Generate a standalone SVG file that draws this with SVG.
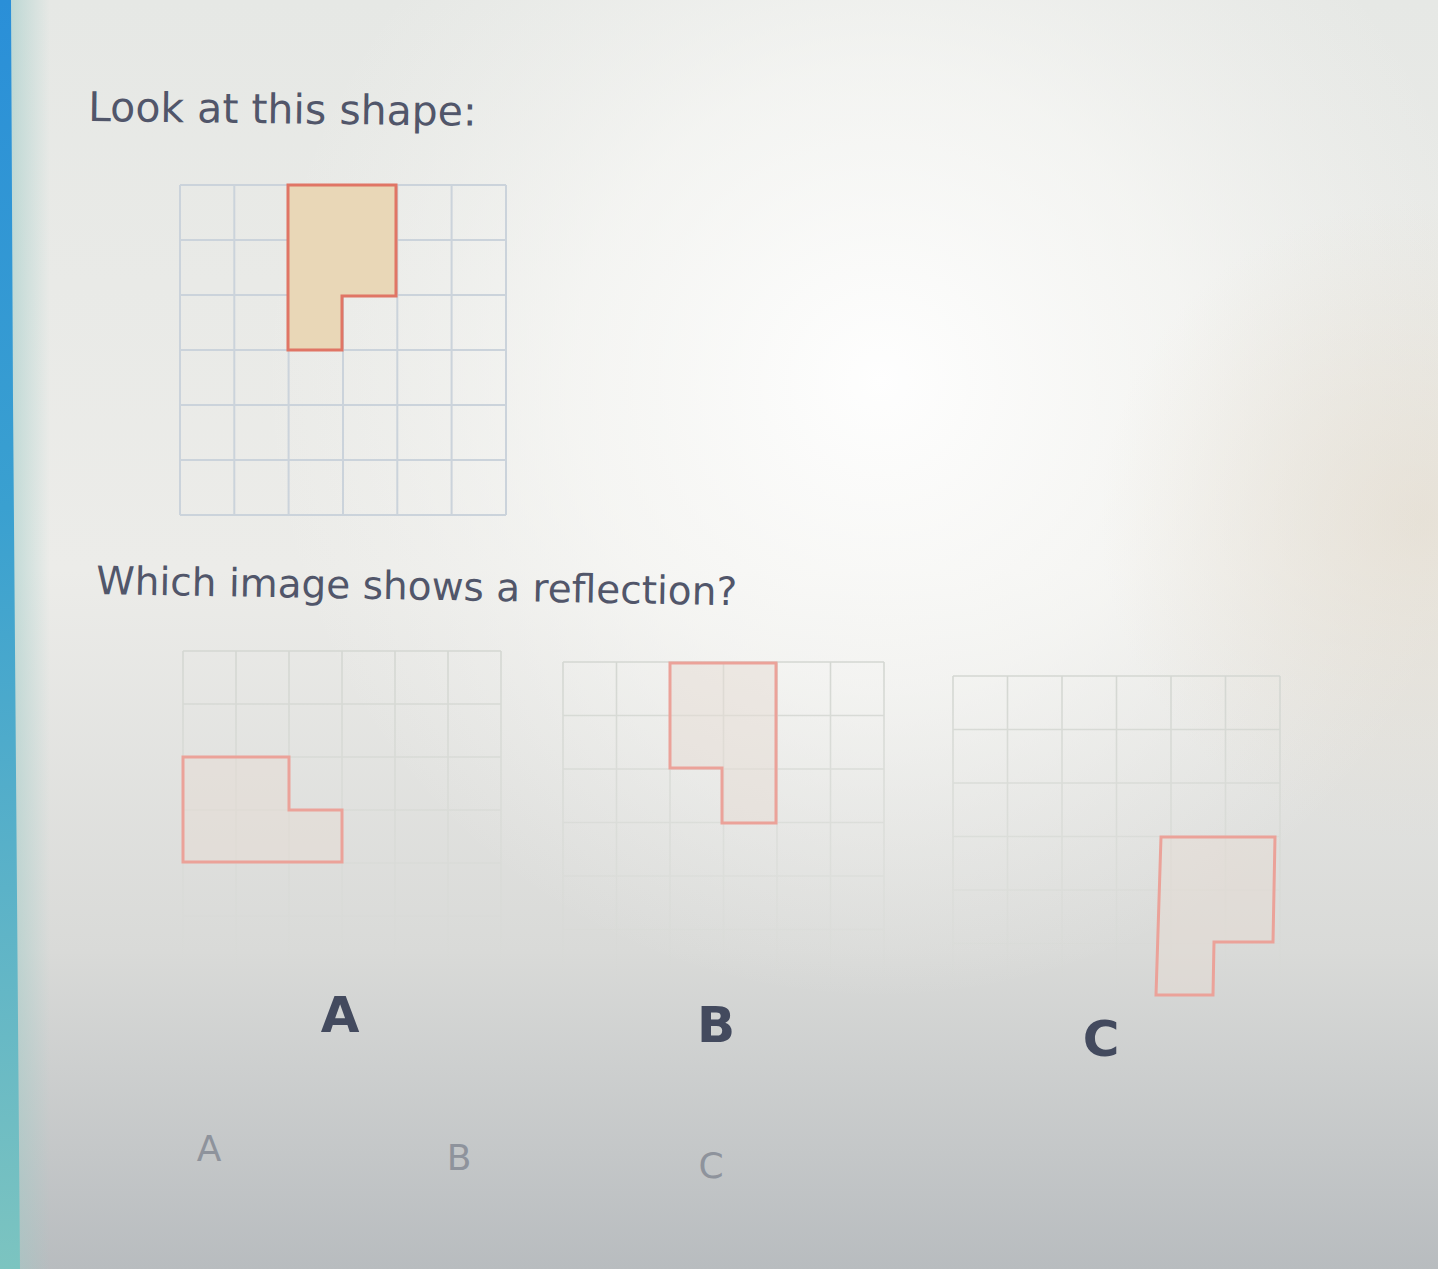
<svg xmlns="http://www.w3.org/2000/svg" width="1438" height="1269" viewBox="0 0 1438 1269">
<defs>
<linearGradient id="bgv" x1="0" y1="0" x2="0" y2="1">
<stop offset="0" stop-color="#e6e8e5"/>
<stop offset="0.45" stop-color="#ecece9"/>
<stop offset="0.75" stop-color="#d9dad8"/>
<stop offset="1" stop-color="#b8bcbf"/>
</linearGradient>
<radialGradient id="glow" cx="880" cy="380" r="620" gradientUnits="userSpaceOnUse">
<stop offset="0" stop-color="#ffffff" stop-opacity="0.95"/>
<stop offset="0.5" stop-color="#fbfbf9" stop-opacity="0.6"/>
<stop offset="1" stop-color="#f4f4f2" stop-opacity="0"/>
</radialGradient>
<radialGradient id="warm" cx="1420" cy="520" r="320" gradientUnits="userSpaceOnUse">
<stop offset="0" stop-color="#e2d8c8" stop-opacity="0.55"/>
<stop offset="1" stop-color="#e2d8c8" stop-opacity="0"/>
</radialGradient>
<linearGradient id="edge" x1="0" y1="0" x2="0" y2="1">
<stop offset="0" stop-color="#2a8fd8"/>
<stop offset="0.4" stop-color="#3aa0d0"/>
<stop offset="1" stop-color="#7cc4c0"/>
</linearGradient>
<linearGradient id="edgefade" x1="0" y1="0" x2="1" y2="0">
<stop offset="0" stop-color="#9ccac6" stop-opacity="0.7"/>
<stop offset="1" stop-color="#9ccac6" stop-opacity="0"/>
</linearGradient>
<linearGradient id="fadeA" x1="0" y1="0" x2="0" y2="1">
<stop offset="0" stop-color="#d4d7d2" stop-opacity="1"/>
<stop offset="0.5" stop-color="#d4d7d2" stop-opacity="0.6"/>
<stop offset="1" stop-color="#d4d7d2" stop-opacity="0.05"/>
</linearGradient>
<style>
.q{font-family:"DejaVu Sans",Verdana,sans-serif;fill:#51566a}
.big{font-family:"DejaVu Sans",Verdana,sans-serif;font-weight:bold;font-size:50px;fill:#434a5e;text-anchor:middle}
.small{font-family:"DejaVu Sans",Verdana,sans-serif;font-size:36px;fill:#8e939c;text-anchor:middle}
.grid{fill:none;stroke:#cbd3db;stroke-width:2}
.fgrid{fill:none;stroke:url(#fadeA);stroke-width:1.6}
.shape{fill:#e9d7b7;stroke:#e07565;stroke-width:3;stroke-linejoin:miter}
.oshape{fill:#e6dbd3;fill-opacity:0.5;stroke:#eba299;stroke-width:3}
</style>
</defs>
<rect width="1438" height="1269" fill="url(#bgv)"/>
<rect width="1438" height="1269" fill="url(#glow)"/>
<rect width="1438" height="1269" fill="url(#warm)"/>
<rect x="0" y="0" width="50" height="1269" fill="url(#edgefade)"/>
<path d="M0 0 H11 L13 400 L20 1269 H0 Z" fill="url(#edge)"/>

<g id="title"><text class="q" x="88" y="121" font-size="41" transform="rotate(0.7 88 121)">Look at this shape:</text></g>

<g id="main-grid">
<path class="grid" d="M180 185 V515 M234.3 185 V515 M288.6 185 V515 M343 185 V515 M397.3 185 V515 M451.6 185 V515 M506 185 V515 M180 185 H506 M180 240 H506 M180 295 H506 M180 350 H506 M180 405 H506 M180 460 H506 M180 515 H506"/>
<path class="shape" d="M288 185 H396 V296 H342 V350 H288 Z"/>
</g>

<g id="question"><text class="q" x="96" y="594" font-size="39" transform="rotate(1 96 594)">Which image shows a reflection?</text></g>

<g id="option-a">
<path class="fgrid" d="M183 651 V969 M236 651 V969 M289 651 V969 M342 651 V969 M395 651 V969 M448 651 V969 M501 651 V969 M183 651 H501 M183 704 H501 M183 757 H501 M183 810 H501 M183 863 H501 M183 916 H501 M183 969 H501"/>
<path class="oshape" d="M183 757 H289 V810 H342 V862 H183 Z"/>
</g>

<g id="option-b">
<path class="fgrid" d="M563 662 V983 M616.5 662 V983 M670 662 V983 M723.5 662 V983 M777 662 V983 M830.5 662 V983 M884 662 V983 M563 662 H884 M563 715.5 H884 M563 769 H884 M563 822.5 H884 M563 876 H884 M563 929.5 H884 M563 983 H884"/>
<path class="oshape" d="M670 663 H776 V823 H722 V768 H670 Z"/>
</g>

<g id="option-c">
<path class="fgrid" d="M953 676 V997 M1007.5 676 V997 M1062 676 V997 M1116.5 676 V997 M1171 676 V997 M1225.5 676 V997 M1280 676 V997 M953 676 H1280 M953 729.5 H1280 M953 783 H1280 M953 836.5 H1280 M953 890 H1280 M953 943.5 H1280 M953 997 H1280"/>
<path class="oshape" d="M1161 837 H1275 L1273 942 H1214 L1213 995 H1156 Z"/>
</g>

<g id="labels">
<text class="big" x="340" y="1032">A</text>
<text class="big" x="716" y="1042">B</text>
<text class="big" x="1101" y="1056">C</text>
<text class="small" x="209" y="1161">A</text>
<text class="small" x="459" y="1170">B</text>
<text class="small" x="711" y="1178">C</text>
</g>
</svg>
